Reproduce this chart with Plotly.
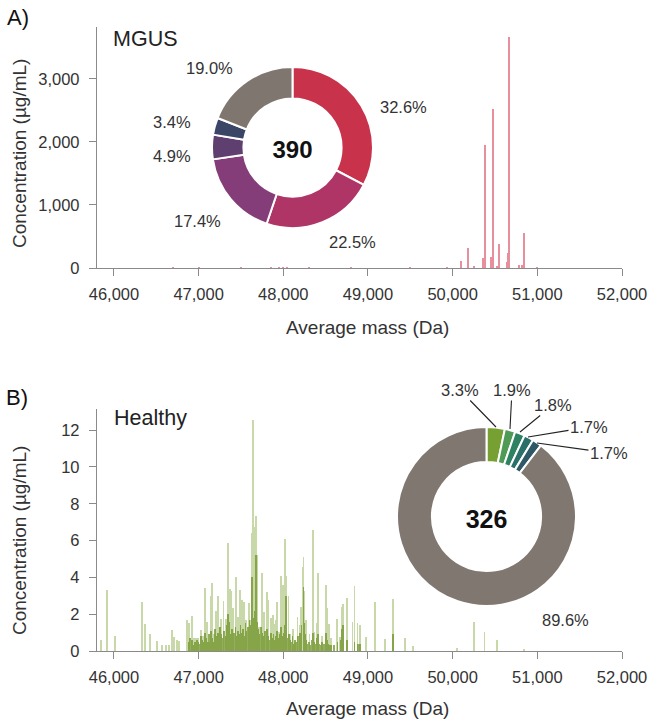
import plotly.graph_objects as go

W, H = 650, 721

# ---------------- DATA ----------------
# Panel A (MGUS) spectrum
mgus_mass = [46700, 47000, 47500, 47850, 47950, 48000, 48050, 48300, 48800, 49500, 49932,
             50098, 50184, 50255, 50365, 50381, 50456, 50476, 50527, 50547, 50641, 50657,
             50672, 50783, 50823, 50843, 50997]
mgus_conc = [8, 6, 10, 12, 10, 9, 12, 7, 6, 7, 15,
             111, 312, 30, 159, 1952, 175, 2524, 30, 381, 100, 238,
             3667, 48, 48, 560, 10]

# Panel B (Healthy) spectrum - main peaks
healthy_mass = [45846, 45914, 46016, 46327, 46366, 46429, 46508, 46564, 46619, 46646, 46682,
                46713, 46745, 46772, 46863, 46890, 46918, 46942, 46973, 46993, 47028, 47052,
                47072, 47096, 47123, 47143, 47158, 47182, 47202, 47225, 47253, 47269, 47293,
                47320, 47344, 47371, 47383, 47411, 47438, 47462, 47486, 47513, 47533, 47557,
                47592, 47608, 47627, 47644, 47655, 47675, 47687, 47714, 47746, 47773, 47805,
                47825, 47852, 47876, 47883, 47903, 47915, 47930, 47954, 47974, 47998, 48021,
                48033, 48061, 48080, 48112, 48139, 48167, 48191, 48207, 48226, 48238, 48250,
                48270, 48309, 48349, 48369, 48397, 48409, 48455, 48502, 48514, 48538, 48561,
                48632, 48671, 48687, 48703, 48750, 48817, 48840, 48876, 48908, 48979, 49085,
                49203, 49294, 49440, 49531, 50051, 50255, 50377, 50522, 50846]
healthy_conc = [0.62, 3.3, 0.82, 2.67, 1.45, 0.95, 0.53, 0.31, 0.3, 0.3, 1.12,
                0.76, 0.6, 0.55, 1.67, 1.52, 1.89, 0.7, 0.7, 0.7, 1.16, 0.8,
                3.45, 1.58, 0.5, 2.97, 3.7, 0.95, 2.2, 2.97, 1.3, 1.76, 2.72,
                1.72, 5.87, 3.39, 3.26, 2.36, 4.03, 1.85, 3.3, 2.76, 2.67, 1.67,
                2.63, 1.7, 6.42, 12.55, 6.74, 7.32, 5.2, 1.3, 4.24, 2.12, 3.21,
                2.79, 1.82, 1.85, 1.94, 1.45, 1.67, 2.67, 1.03, 4.06, 3.57, 6.06,
                4.06, 2.97, 0.9, 1.21, 0.5, 1.85, 1.4, 2.39, 4.57, 5.11, 3.25,
                1.67, 0.95, 6.6, 1.03, 1.5, 4.24, 0.8, 3.57, 2.36, 1.45, 0.7,
                1.72, 0.76, 2.39, 2.58, 2.88, 1.6, 3.52, 1.5, 1.43, 0.76, 2.68,
                0.65, 2.85, 0.69, 0.27, 0.14, 1.55, 1.05, 0.62, 0.12]

# Panel B dense low-level proteoforms (overlapping, darker)
healthy_base_mass = [46880, 46895, 46910, 46925, 46940, 46955, 46970, 46985, 47000, 47015, 47030,
                     47045, 47060, 47075, 47090, 47105, 47120, 47135, 47150, 47165, 47180, 47195,
                     47210, 47225, 47240, 47255, 47270, 47285, 47300, 47315, 47330, 47345, 47360,
                     47375, 47390, 47405, 47420, 47435, 47450, 47465, 47480, 47495, 47510, 47525,
                     47540, 47555, 47570, 47585, 47600, 47615, 47627, 47645, 47660, 47680, 47690,
                     47705, 47720, 47735, 47750, 47765, 47780, 47795, 47810, 47825, 47840, 47855,
                     47870, 47885, 47900, 47915, 47930, 47945, 47960, 47975, 47990, 48005, 48020,
                     48033, 48050, 48065, 48080, 48095, 48110, 48125, 48140, 48155, 48170, 48185,
                     48200, 48215, 48238, 48245, 48260, 48275, 48290, 48305, 48320, 48335, 48350,
                     48365, 48380, 48395, 48410, 48425, 48440, 48455, 48470, 48485, 48500, 48515,
                     48530, 48545, 48560, 48600, 48640, 48675, 48690, 48705, 48750, 48840, 48880,
                     48905, 49294]
healthy_base_conc = [0.5, 0.7, 0.4, 0.6, 0.3, 0.5, 0.4, 0.6, 0.5, 0.4, 0.8,
                     0.6, 0.5, 1.0, 0.7, 0.5, 0.9, 0.6, 1.1, 0.7, 0.5, 1.2,
                     0.8, 1.0, 0.6, 1.3, 0.9, 0.7, 1.1, 0.8, 1.4, 2.0, 1.6,
                     0.9, 1.2, 0.7, 1.0, 1.3, 0.8, 1.1, 0.9, 1.4, 1.0, 1.2,
                     0.8, 1.5, 1.1, 1.3, 1.7, 1.4, 4.0, 1.8, 2.2, 5.2, 1.6,
                     1.2, 0.9, 1.3, 1.0, 0.8, 1.1, 0.9, 1.2, 0.8, 0.6, 1.0,
                     0.7, 0.9, 0.6, 0.8, 1.1, 0.7, 0.9, 1.3, 0.8, 1.0, 1.4,
                     3.0, 0.7, 0.9, 0.6, 0.5, 0.8, 0.4, 0.6, 0.5, 0.8, 0.7,
                     1.0, 1.4, 3.5, 1.5, 0.9, 0.6, 0.4, 0.5, 0.3, 0.6, 1.0,
                     0.5, 0.4, 0.7, 0.9, 0.4, 0.3, 0.5, 0.3, 0.4, 1.0, 0.6,
                     0.4, 0.3, 0.3, 0.3, 0.5, 0.6, 1.2, 1.4, 0.6, 0.5, 0.4,
                     0.4, 0.9]

# Donut data
mgus_share = [32.6, 22.5, 17.4, 4.9, 3.4, 19.0]
mgus_colors = ["#c8324b", "#b03567", "#843d78", "#5e3f70", "#3b4566", "#807670"]
mgus_total = "390"
healthy_share = [3.3, 1.9, 1.8, 1.7, 1.7, 89.6]
healthy_colors = ["#77a032", "#4f9a55", "#2d8262", "#2a6f68", "#2f5866", "#807770"]
healthy_total = "326"

x_ticks = [46000, 47000, 48000, 49000, 50000, 51000, 52000]
yA_ticks = [0, 1000, 2000, 3000]
yB_ticks = [0, 2, 4, 6, 8, 10, 12]

FONT = "Arial, Liberation Sans, sans-serif"
TXT = "#333333"
AX = "#8a8a8a"


def px(x, y):
    return x / W, 1 - y / H


fig = go.Figure()

fig.add_trace(go.Bar(x=mgus_mass, y=mgus_conc, width=14, marker=dict(color="#d9465f", line_width=0),
                     opacity=0.6, xaxis="x", yaxis="y", showlegend=False))
fig.add_trace(go.Bar(x=healthy_mass, y=healthy_conc, width=10, marker=dict(color="#8aab40", line_width=0),
                     opacity=0.45, xaxis="x2", yaxis="y2", showlegend=False))
fig.add_trace(go.Bar(x=healthy_base_mass, y=healthy_base_conc, width=9, marker=dict(color="#6f9428", line_width=0),
                     opacity=0.75, xaxis="x2", yaxis="y2", showlegend=False))

fig.add_trace(go.Pie(values=mgus_share, marker=dict(colors=mgus_colors, line=dict(color="white", width=2)),
                     hole=0.61, sort=False, direction="clockwise", rotation=0, textinfo="none",
                     hoverinfo="skip", showlegend=False,
                     domain=dict(x=[212 / W, 373 / W], y=[(H - 228) / H, (H - 67) / H]),
                     title=dict(text="<b>%s</b>" % mgus_total, position="middle center",
                                font=dict(size=24, color="#111", family=FONT))))
fig.add_trace(go.Pie(values=healthy_share, marker=dict(colors=healthy_colors, line=dict(color="white", width=2)),
                     hole=0.61, sort=False, direction="clockwise", rotation=0, textinfo="none",
                     hoverinfo="skip", showlegend=False,
                     domain=dict(x=[397 / W, 576 / W], y=[(H - 606) / H, (H - 427) / H]),
                     title=dict(text="<b>%s</b>" % healthy_total, position="middle center",
                                font=dict(size=25, color="#111", family=FONT))))

axis_common = dict(showline=True, linecolor=AX, linewidth=1.3, ticks="outside", ticklen=7,
                   tickcolor=AX, tickwidth=1.2, showgrid=False, zeroline=False,
                   tickfont=dict(size=16.5, color=TXT, family=FONT), automargin=False)

dom_x = [97 / W, 622 / W]
fig.update_layout(
    width=W, height=H, margin=dict(l=0, r=0, t=0, b=0),
    paper_bgcolor="white", plot_bgcolor="white", barmode="overlay", bargap=0,
    xaxis=dict(domain=dom_x, range=[45800, 52000], tickvals=x_ticks, tickformat=",",
               anchor="y", ticklabelstandoff=4, **axis_common),
    yaxis=dict(domain=[(H - 268) / H, (H - 27) / H], range=[0, 3825], tickvals=yA_ticks,
               tickformat=",", anchor="x", ticklabelstandoff=6, **axis_common),
    xaxis2=dict(domain=dom_x, range=[45800, 52000], tickvals=x_ticks, tickformat=",",
                anchor="y2", ticklabelstandoff=4, **axis_common),
    yaxis2=dict(domain=[(H - 651) / H, (H - 409) / H], range=[0, 13.15], tickvals=yB_ticks,
                anchor="x2", ticklabelstandoff=6, **axis_common),
)

ann = []


def text(x, y, s, size=16.5, bold=False, angle=0, color=TXT):
    ax_, ay_ = px(x, y)
    ann.append(dict(x=ax_, y=ay_, xref="paper", yref="paper", text=("<b>%s</b>" % s) if bold else s,
                    showarrow=False, xanchor="center", yanchor="middle", textangle=angle,
                    font=dict(size=size, color=color, family=FONT)))


# panel labels
text(18, 18, "A)", size=22, color="#111")
text(17, 397, "B)", size=22, color="#111")
text(145, 39, "MGUS", size=21.5, color="#222")
text(150, 418, "Healthy", size=21.5, color="#222")
# axis titles
text(367, 327, "Average mass (Da)", size=19)
text(367, 708, "Average mass (Da)", size=19)
text(19, 154, "Concentration (µg/mL)", size=19, angle=-90)
text(19, 541, "Concentration (µg/mL)", size=19, angle=-90)

# MGUS donut labels
mgus_label_pos = [(403, 107), (352, 242), (197, 221), (172, 156), (172, 122), (209, 68)]
for v, (lx, ly) in zip(mgus_share, mgus_label_pos):
    text(lx, ly, "%.1f%%" % v)

# Healthy donut labels with leader lines
healthy_label_pos = [(460, 390), (512, 390), (553, 405), (589, 427), (609, 453), (565, 620)]
healthy_tips = [(496, 427), (510, 429), (520, 432), (528, 437), (537, 443), None]
for v, (lx, ly), tip in zip(healthy_share, healthy_label_pos, healthy_tips):
    if tip is None:
        text(lx, ly, "%.1f%%" % v)
    else:
        tx, ty = px(*tip)
        ann.append(dict(x=tx, y=ty, xref="paper", yref="paper", text="%.1f%%" % v,
                        showarrow=True, arrowhead=0, arrowwidth=1.1, arrowcolor="#222",
                        ax=lx - tip[0], ay=ly - tip[1], axref="pixel", ayref="pixel",
                        xanchor="center", yanchor="middle",
                        font=dict(size=16.5, color=TXT, family=FONT)))

fig.update_layout(annotations=ann)
fig.write_html("out.html", config={"displayModeBar": False},
               post_script="document.body.style.margin='0';document.body.style.overflow='hidden';")
